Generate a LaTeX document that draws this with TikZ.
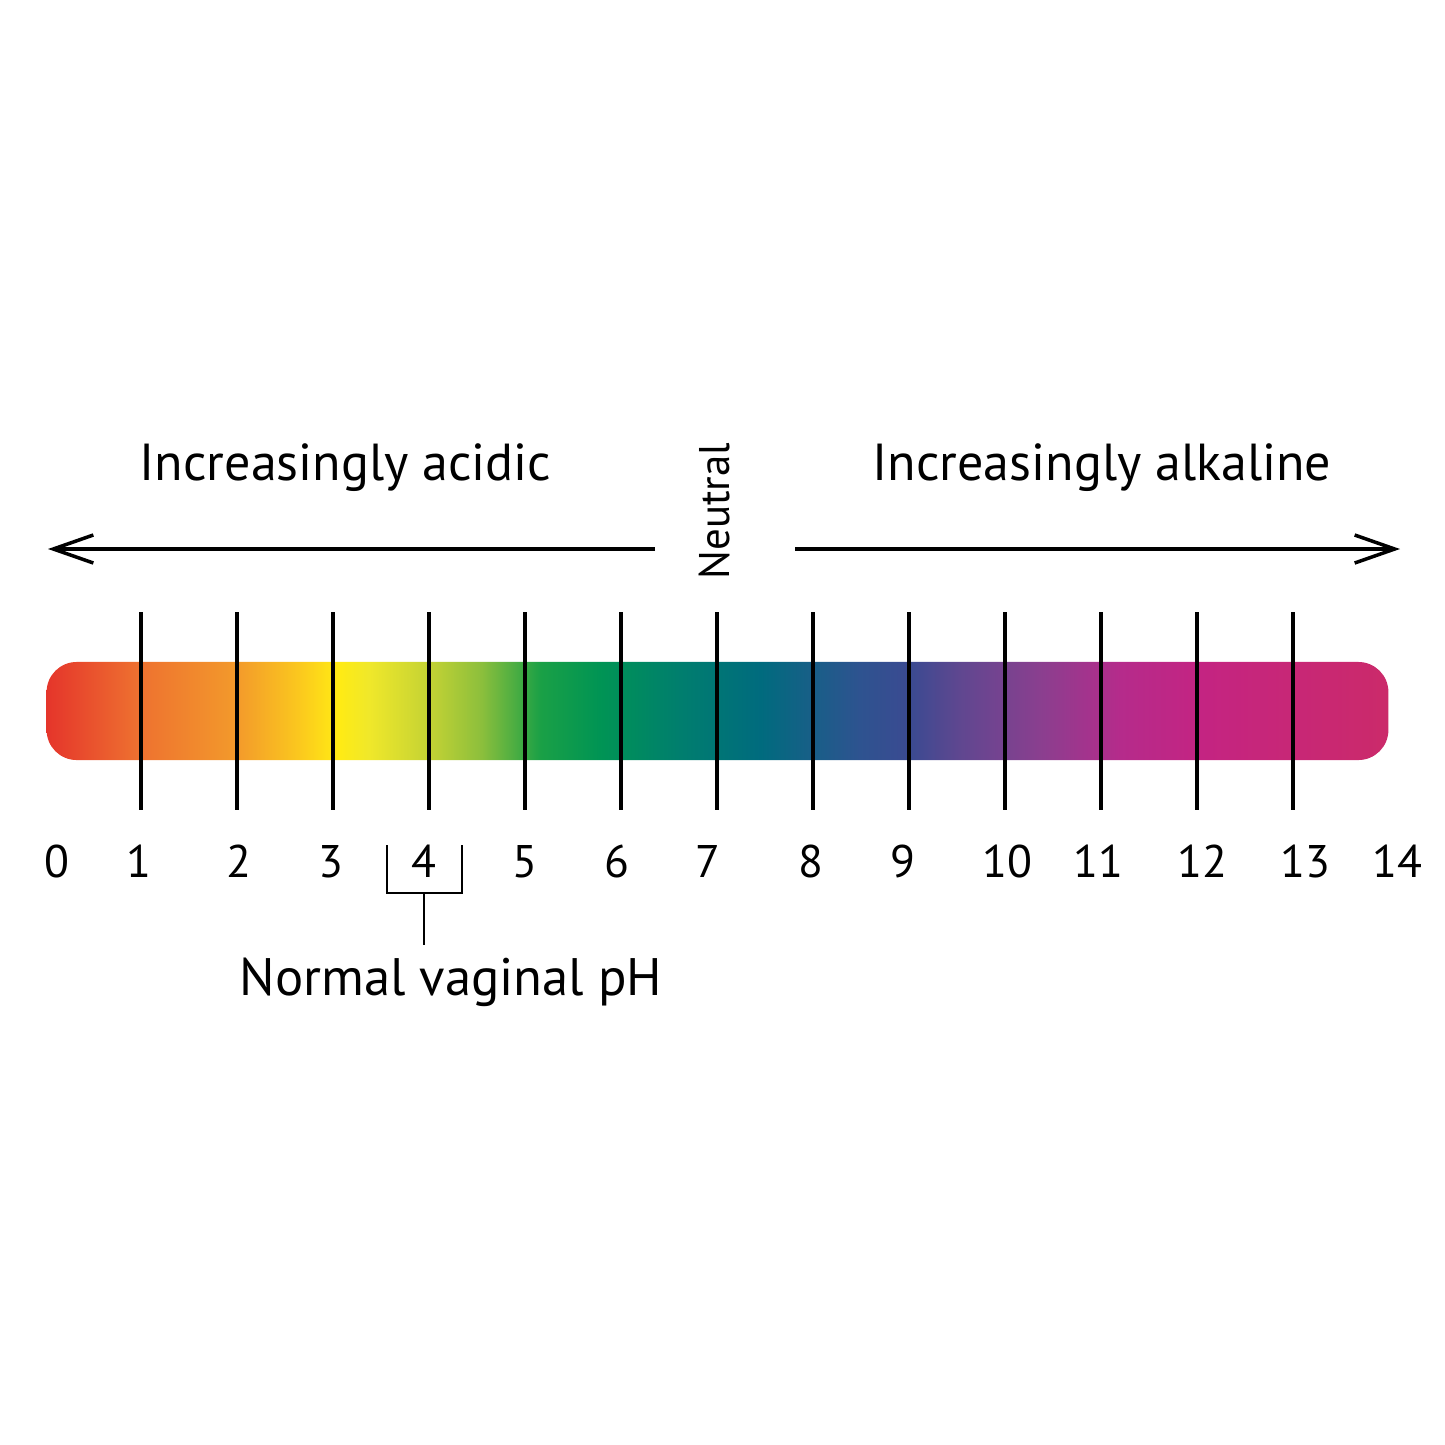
\documentclass[tikz,border=0pt]{standalone}
\usepackage{fontspec}
\setmainfont{PT Sans}
\usetikzlibrary{arrows.meta,positioning}
\definecolor{phA}{HTML}{E5352B}
\definecolor{phB}{HTML}{EE7230}
\definecolor{phC}{HTML}{F39A2B}
\definecolor{phD}{HTML}{FBC81E}
\definecolor{phE}{HTML}{FFEB14}
\definecolor{phF}{HTML}{F0E82A}
\definecolor{phG}{HTML}{C3D234}
\definecolor{phH}{HTML}{8CBF3C}
\definecolor{phI}{HTML}{1AA046}
\definecolor{phJ}{HTML}{009454}
\definecolor{phK}{HTML}{007E6E}
\definecolor{phL}{HTML}{006B7E}
\definecolor{phM}{HTML}{2E5390}
\definecolor{phN}{HTML}{3B4A91}
\definecolor{phO}{HTML}{5F4790}
\definecolor{phP}{HTML}{8A3F8F}
\definecolor{phQ}{HTML}{B52B8B}
\definecolor{phR}{HTML}{C42482}
\definecolor{phS}{HTML}{CB2A6A}
\pgfdeclarehorizontalshading{phscale}{100bp}{color(0bp)=(phA); color(25bp)=(phA); color(28.5bp)=(phB); color(32.1bp)=(phC); color(34.4bp)=(phD); color(35.9bp)=(phE); color(37bp)=(phF); color(39.3bp)=(phG); color(41.2bp)=(phH); color(43.4bp)=(phI); color(45.6bp)=(phJ); color(48.6bp)=(phK); color(51.6bp)=(phL); color(55.3bp)=(phM); color(57.2bp)=(phN); color(59bp)=(phO); color(62bp)=(phP); color(65bp)=(phQ); color(68bp)=(phR); color(75bp)=(phS); color(100bp)=(phS)}
\tikzset{phbar/.style={shading=phscale,rounded corners=0.3cm,minimum width=13.41cm,minimum height=0.98cm,inner sep=0pt},tickline/.style={line width=1pt},phaxis/.style={line width=1pt,-{Straight Barb[length=0.4cm,width=0.28cm,line width=1pt]}},heading/.style={font=\fontsize{14.8}{17}\selectfont,anchor=base},phnum/.style={font=\fontsize{13}{15}\selectfont,anchor=base},bracket/.style={line width=0.7pt}}
\begin{document}
\begin{tikzpicture}[x=0.01cm,y=-0.01cm]
\useasboundingbox (0,0) rectangle (1445,1445);
\node[phbar] (bar) at (717.5,711) {};
\foreach \i in {1,...,13} \draw[tickline] (45+96*\i,612) -- (45+96*\i,810);
\foreach \v/\x in {0/57,1/139,2/239,3/331,4/424,5/525,6/617,7/708,8/811,9/903,10/1007,11/1098,12/1202,13/1305,14/1397} \node[phnum] (n\v) at (\x,877) {\v};
\node[heading] (acid) at (345.5,480) {Increasingly acidic};
\node[heading] (alk) at (1102,480) {Increasingly alkaline};
\node[font=\fontsize{12.2}{14}\selectfont,rotate=90] (neutral) at (714,511) {Neutral};
\coordinate (acidstart) at (655,549);\coordinate (acidend) at (48,549);
\coordinate (alkstart) at (795,549);\coordinate (alkend) at (1400,549);
\draw[phaxis] (acidstart) -- (acidend);
\draw[phaxis] (alkstart) -- (alkend);
\node[heading,font=\fontsize{15}{17}\selectfont] (normal) at (451,995) {Normal vaginal pH};
\coordinate (brL) at (387,845);\coordinate (brR) at (462,845);\coordinate (brmid) at (424,893);
\draw[bracket] (brL) -- (387,893) -| (brR);
\draw[bracket] (brmid) -- (brmid |- normal.north);
\end{tikzpicture}
\end{document}
